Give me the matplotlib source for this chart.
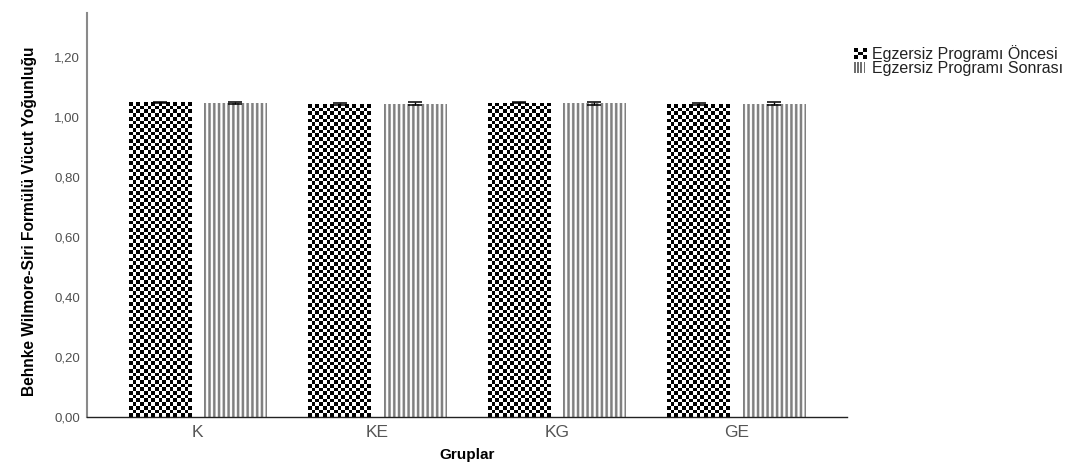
import matplotlib
matplotlib.use("Agg")
import matplotlib.pyplot as plt
import numpy as np
from matplotlib.legend_handler import HandlerBase
from matplotlib.patches import Rectangle, Patch

plt.rcParams["font.family"] = ["Liberation Sans", "DejaVu Sans"]

groups = ["K", "KE", "KG", "GE"]
pre_vals = [1.049, 1.043, 1.048, 1.043]
pre_err = [0.002, 0.003, 0.002, 0.003]
post_vals = [1.047, 1.045, 1.046, 1.045]
post_err = [0.004, 0.006, 0.005, 0.005]
series_labels = ["Egzersiz Programı Öncesi", "Egzersiz Programı Sonrası"]
yticks = [0.0, 0.2, 0.4, 0.6, 0.8, 1.0, 1.2]

W, H, DPI = 10.88, 4.73, 100
fig = plt.figure(figsize=(W, H), dpi=DPI)
ax_pos = [87 / 1088, 56 / 473, 760 / 1088, 404 / 473]
ax = fig.add_axes(ax_pos)

xlim = (-0.617, 3.617)
ylim = (0, 1.347)
px_x = ax_pos[2] * W * DPI / (xlim[1] - xlim[0])
px_y = ax_pos[3] * H * DPI / (ylim[1] - ylim[0])

x = np.arange(len(groups))
bw, off = 0.35, 0.21

pre_bars = ax.bar(x - off, pre_vals, bw, color="white", linewidth=0, zorder=1)
post_bars = ax.bar(x + off, post_vals, bw, color="white", linewidth=0, zorder=1)

# checker fill for the "before" bars
cell = 3.7
for b in pre_bars:
    x0, w, h = b.get_x(), b.get_width(), b.get_height()
    nx = max(1, int(round(w * px_x / cell)))
    ny = max(1, int(round(h * px_y / cell)))
    arr = (np.add.outer(np.arange(ny), np.arange(nx)) % 2).astype(float)
    im = ax.imshow(arr, cmap="gray", vmin=0, vmax=1, origin="lower",
                   extent=(x0, x0 + w, 0, h), aspect="auto",
                   interpolation="nearest", zorder=2)
    im.set_clip_path(b)

# vertical grey stripes for the "after" bars
period, line_w = 4.75, 2.4
for b in post_bars:
    x0, w, h = b.get_x(), b.get_width(), b.get_height()
    ncol = int(round(w * px_x * 4))
    cols = np.where((np.arange(ncol) / 4.0 + 0.5) % period < line_w, 0.5, 1.0)
    arr = np.tile(cols, (2, 1))
    im = ax.imshow(arr, cmap="gray", vmin=0, vmax=1, origin="lower",
                   extent=(x0, x0 + w, 0, h), aspect="auto",
                   interpolation="antialiased", zorder=2)
    im.set_clip_path(b)

ax.errorbar(x - off, pre_vals, yerr=pre_err, fmt="none", ecolor="black",
            elinewidth=1, capsize=5, capthick=1.1, zorder=4)
ax.errorbar(x + off, post_vals, yerr=post_err, fmt="none", ecolor="black",
            elinewidth=1, capsize=5, capthick=1.1, zorder=4)

ax.set_xlim(*xlim)
ax.set_ylim(*ylim)
ax.set_xticks(x)
ax.set_xticklabels(groups, fontsize=12.5, color="#555555")
ax.set_yticks(yticks)
ax.set_yticklabels([f"{v:.2f}".replace(".", ",") for v in yticks],
                   fontsize=9.5, color="#505050")
ax.tick_params(axis="x", length=0, pad=6)
ax.tick_params(axis="y", length=0, pad=5)

for s in ["top", "right"]:
    ax.spines[s].set_visible(False)
ax.spines["left"].set_color("#8a8a8a")
ax.spines["left"].set_linewidth(1.5)
ax.spines["bottom"].set_color("#222222")
ax.spines["bottom"].set_linewidth(1.0)

fig.text(467 / 1088, 1 - 455 / 473, "Gruplar", ha="center", va="center",
         fontsize=11, fontweight="bold")
fig.text(30 / 1088, 1 - 221 / 473, "Behnke Wilmore-Siri Formülü Vücut Yoğunluğu",
         rotation=90, ha="center", va="center", fontsize=11.2, fontweight="bold")


class CheckerHandler(HandlerBase):
    def create_artists(self, legend, orig_handle, xdescent, ydescent,
                       width, height, fontsize, trans):
        out = []
        n = 3
        cw, ch = width / n, height / n
        for i in range(n):
            for j in range(n):
                if (i + j) % 2 == 0:
                    out.append(Rectangle((-xdescent + i * cw, -ydescent + j * ch),
                                         cw, ch, facecolor="black",
                                         linewidth=0, transform=trans))
        return out


class StripeHandler(HandlerBase):
    def create_artists(self, legend, orig_handle, xdescent, ydescent,
                       width, height, fontsize, trans):
        out = []
        n = 4
        step = width / n
        for i in range(n):
            out.append(Rectangle((-xdescent + i * step, -ydescent),
                                 step * 0.5, height, facecolor="#707070",
                                 linewidth=0, transform=trans))
        return out


h_pre = Patch(label=series_labels[0])
h_post = Patch(label=series_labels[1])
fig.legend([h_pre, h_post], series_labels,
           handler_map={h_pre: CheckerHandler(), h_post: StripeHandler()},
           loc="upper left", bbox_to_anchor=(846 / 1088, 1 - 37 / 473),
           frameon=False, fontsize=11.5, handlelength=0.8, handleheight=0.65,
           handletextpad=0.3, labelspacing=-0.05, borderpad=0,
           labelcolor="#222222")

fig.savefig("out.png", dpi=DPI)
